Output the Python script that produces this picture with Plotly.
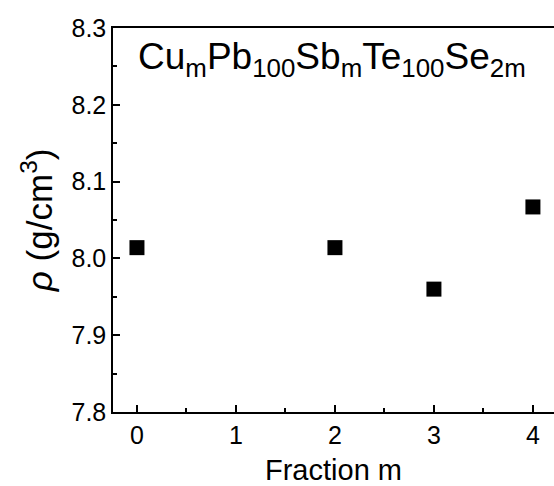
import plotly.graph_objects as go

fraction_m = [0, 2, 3, 4]
density = [8.014, 8.014, 7.960, 8.067]
y_tickvals = [7.8, 7.9, 8.0, 8.1, 8.2, 8.3]
y_ticktext = ["7.8", "7.9", "8.0", "8.1", "8.2", "8.3"]
x_tickvals = [0, 1, 2, 3, 4]

FONT = "Liberation Sans, Arial, sans-serif"

fig = go.Figure()
fig.add_trace(go.Scatter(
    x=fraction_m, y=density, mode="markers",
    marker=dict(symbol="square", size=15, color="black"),
    showlegend=False,
))

fig.update_layout(
    width=554, height=486,
    margin=dict(l=113, r=0, t=28, b=74),
    paper_bgcolor="white", plot_bgcolor="white",
    font=dict(family=FONT, color="black"),
    xaxis=dict(
        range=[-0.242, 4.213], tickvals=x_tickvals, automargin=False,
        ticks="inside", ticklen=7, tickwidth=1.5, tickcolor="black",
        showline=True, linecolor="black", linewidth=1.5, mirror=True,
        showgrid=False, zeroline=False,
        tickfont=dict(size=25, family=FONT),
        minor=dict(dtick=0.5, tick0=0, ticks="inside", ticklen=4, tickwidth=1.5, tickcolor="black"),
    ),
    yaxis=dict(
        range=[7.8, 8.3], tickvals=y_tickvals, ticktext=y_ticktext, automargin=False,
        ticks="inside", ticklen=7, tickwidth=1.5, tickcolor="black",
        showline=True, linecolor="black", linewidth=1.5, mirror=False,
        showgrid=False, zeroline=False,
        tickfont=dict(size=25, family=FONT),
        minor=dict(dtick=0.05, tick0=7.8, ticks="inside", ticklen=4, tickwidth=1.5, tickcolor="black"),
    ),
)

fig.add_annotation(
    text="Fraction m",
    xref="paper", yref="paper", x=0.5, y=-0.151,
    xanchor="center", yanchor="middle", showarrow=False,
    font=dict(size=29, family=FONT),
)

fig.add_annotation(
    text="<i>ρ</i> (g/cm<sup>3</sup>)", textangle=-90,
    xref="paper", yref="paper", x=-0.172, y=0.5,
    xanchor="center", yanchor="middle", showarrow=False,
    font=dict(size=35, family=FONT),
)

fig.add_annotation(
    text="Cu<sub>m</sub>Pb<sub>100</sub>Sb<sub>m</sub>Te<sub>100</sub>Se<sub>2m</sub>",
    xref="paper", yref="paper", x=0.052, y=0.985,
    xanchor="left", yanchor="top", showarrow=False,
    font=dict(size=37, family=FONT),
)

fig.write_html("out.html", config={"displayModeBar": False},
               post_script="document.body.style.margin='0';document.body.style.overflow='hidden';")
